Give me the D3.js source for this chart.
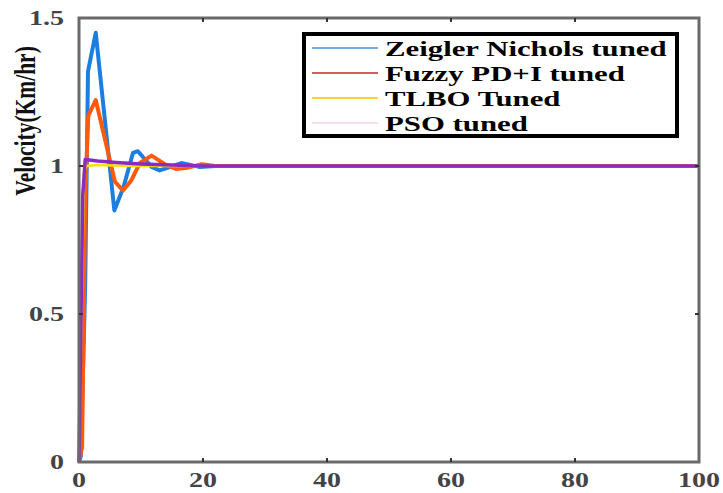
<!DOCTYPE html>
<html>
<head>
<meta charset="utf-8">
<script src="https://cdn.jsdelivr.net/npm/d3@7"></script>
<style>
  body { margin: 0; background: #fff; }
  text { font-family: "Liberation Serif", "Times New Roman", serif; font-weight: bold; }
</style>
</head>
<body>
<div id="chart"></div>
<script>
// step responses
const znTime  = [0, 0.3, 1.0, 1.45, 2.7, 5.7, 7.2, 8.7, 9.5, 11.7, 13.0, 15.2, 16.5, 19.4, 22, 100];
const znVel   = [0, 0.02, 0.6, 1.32, 1.45, 0.85, 0.93, 1.044, 1.05, 0.997, 0.985, 1.0, 1.01, 0.997, 1.0, 1.0];
const fuzzyTime = [0, 0.5, 1.0, 1.5, 2.7, 4.3, 5.8, 7.1, 8.4, 9.8, 11.7, 14.1, 15.6, 17.2, 19.8, 22, 100];
const fuzzyVel  = [0, 0.05, 0.9, 1.17, 1.223, 1.08, 0.947, 0.917, 0.95, 1.01, 1.035, 1.003, 0.99, 0.993, 1.006, 1.0, 1.0];
const tlboTime = [0, 0.8, 1.2, 3, 8, 100];
const tlboVel  = [0, 0.98, 1.0, 1.003, 1.0, 1.0];
const psoTime = [0, 0.6, 1.0, 3, 6, 10, 15, 20, 100];
const psoVel  = [0, 0.9, 1.022, 1.017, 1.012, 1.007, 1.003, 1.0, 1.0];

const legendLabels = ["Zeigler Nichols tuned", "Fuzzy PD+I tuned", "TLBO Tuned", "PSO tuned"];
const legendColors = ["#4a90d9", "#c0282d", "#ffc000", "#f5d0f0"];

const xTicks = [0, 20, 40, 60, 80, 100];
const yTicks = [0, 0.5, 1, 1.5];

const width = 723, height = 493;
const plotLeft = 79, plotRight = 699, plotTop = 18, plotBottom = 462;
const stretch = 1.4; // the picture's text is wide

const svg = d3.select("#chart").append("svg")
  .attr("width", width)
  .attr("height", height);

const x = d3.scaleLinear().domain([0, 100]).range([plotLeft, plotRight]);
const y = d3.scaleLinear().domain([0, 1.5]).range([plotBottom, plotTop]);

const series = [
  { t: znTime, v: znVel, color: "#1c7ee0", w: 4 },
  { t: fuzzyTime, v: fuzzyVel, color: "#ff5a0a", w: 4 },
  { t: tlboTime, v: tlboVel, color: "#f5e400", w: 2.5 },
  { t: psoTime, v: psoVel, color: "#8a2cc4", w: 3.5 }
];

const line = d3.line()
  .x(d => x(d[0]))
  .y(d => y(d[1]));

svg.selectAll("path.series")
  .data(series)
  .join("path")
  .attr("class", "series")
  .attr("d", s => line(s.t.map((t, i) => [t, s.v[i]])))
  .attr("fill", "none")
  .attr("stroke", s => s.color)
  .attr("stroke-width", s => s.w)
  .attr("stroke-linejoin", "round");

// frame
svg.append("rect")
  .attr("x", plotLeft)
  .attr("y", plotTop)
  .attr("width", plotRight - plotLeft)
  .attr("height", plotBottom - plotTop)
  .attr("fill", "none")
  .attr("stroke", "#6a6a6a")
  .attr("stroke-width", 3);

// inward ticks on all four sides
const tickLen = 4;
const innerX = xTicks.filter(d => d > 0 && d < 100);
const innerY = yTicks.filter(d => d > 0 && d < 1.5);
innerX.forEach(d => {
  svg.append("line").attr("x1", x(d)).attr("x2", x(d)).attr("y1", plotBottom).attr("y2", plotBottom - tickLen)
    .attr("stroke", "#333").attr("stroke-width", 2);
  svg.append("line").attr("x1", x(d)).attr("x2", x(d)).attr("y1", plotTop).attr("y2", plotTop + tickLen)
    .attr("stroke", "#333").attr("stroke-width", 2);
});
innerY.forEach(d => {
  svg.append("line").attr("x1", plotLeft).attr("x2", plotLeft + tickLen).attr("y1", y(d)).attr("y2", y(d))
    .attr("stroke", "#333").attr("stroke-width", 2);
  svg.append("line").attr("x1", plotRight).attr("x2", plotRight - tickLen).attr("y1", y(d)).attr("y2", y(d))
    .attr("stroke", "#333").attr("stroke-width", 2);
});

// tick labels
svg.selectAll("text.xtick")
  .data(xTicks)
  .join("text")
  .attr("class", "xtick")
  .attr("transform", d => `translate(${x(d)},${487}) scale(${stretch},1)`)
  .attr("text-anchor", "middle")
  .attr("fill", "#444")
  .style("font-size", "20px")
  .text(d => d);

svg.selectAll("text.ytick")
  .data(yTicks)
  .join("text")
  .attr("class", "ytick")
  .attr("transform", d => `translate(${64},${y(d) + 7}) scale(${stretch},1)`)
  .attr("text-anchor", "end")
  .attr("fill", "#444")
  .style("font-size", "20px")
  .text(d => d);

// y label
svg.append("text")
  .attr("transform", `translate(35,121) scale(${stretch},1) rotate(-90)`)
  .attr("text-anchor", "middle")
  .attr("fill", "#111")
  .style("font-size", "21.5px")
  .text("Velocity(Km/hr)");

// legend
const legend = svg.append("g");
legend.append("rect")
  .attr("x", 304)
  .attr("y", 34)
  .attr("width", 373)
  .attr("height", 102)
  .attr("fill", "#fff")
  .attr("stroke", "#000")
  .attr("stroke-width", 4);

const rowY = d3.scalePoint().domain(legendLabels).range([48, 123]);

const rows = legend.selectAll("g.row")
  .data(legendLabels)
  .join("g")
  .attr("class", "row")
  .attr("transform", d => `translate(0,${rowY(d)})`);

rows.append("line")
  .attr("x1", 312)
  .attr("x2", 378)
  .attr("stroke", (d, i) => legendColors[i])
  .attr("stroke-width", 1.5);

rows.append("text")
  .attr("transform", `translate(385,8) scale(${stretch},1)`)
  .attr("fill", "#000")
  .style("font-size", "22px")
  .text(d => d);
</script>
</body>
</html>
